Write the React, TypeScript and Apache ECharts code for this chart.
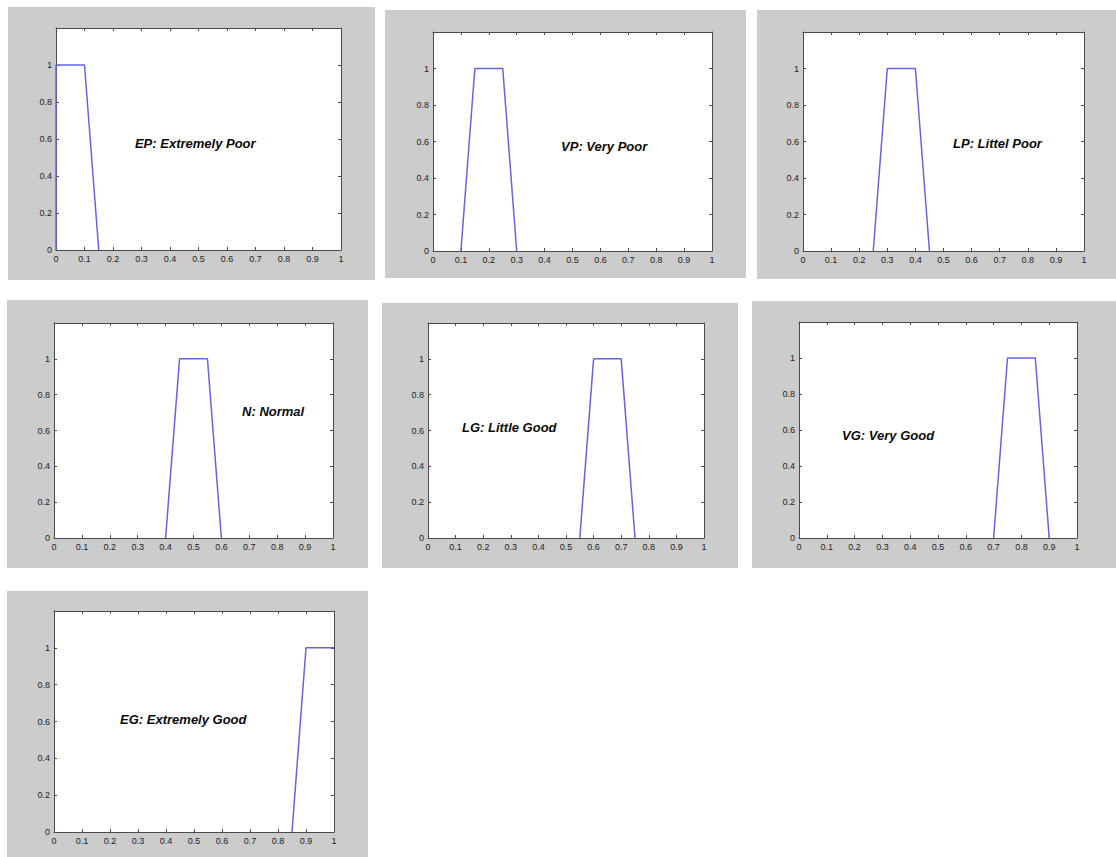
import React, { useEffect, useRef } from "react";
import * as echarts from "echarts";

// Trapezoidal membership functions of the seven linguistic terms
const epPoints = [[0, 0], [0, 1], [0.1, 1], [0.15, 0]];
const vpPoints = [[0.1, 0], [0.15, 1], [0.25, 1], [0.3, 0]];
const lpPoints = [[0.25, 0], [0.3, 1], [0.4, 1], [0.45, 0]];
const nPoints = [[0.4, 0], [0.45, 1], [0.55, 1], [0.6, 0]];
const lgPoints = [[0.55, 0], [0.6, 1], [0.7, 1], [0.75, 0]];
const vgPoints = [[0.7, 0], [0.75, 1], [0.85, 1], [0.9, 0]];
const egPoints = [[0.85, 0], [0.9, 1], [1, 1]];

const termNames = [
  "EP: Extremely Poor",
  "VP: Very Poor",
  "LP: Littel Poor",
  "N: Normal",
  "LG: Little Good",
  "VG: Very Good",
  "EG: Extremely Good",
];
// Where each term's name is written, in data coordinates (left edge, middle)
const nameX = [0.277, 0.459, 0.534, 0.674, 0.123, 0.155, 0.236];
const nameY = [0.573, 0.57, 0.59, 0.705, 0.617, 0.567, 0.61];

const xTicks = [0, 0.1, 0.2, 0.3, 0.4, 0.5, 0.6, 0.7, 0.8, 0.9, 1];
const yTicks = [0, 0.2, 0.4, 0.6, 0.8, 1];

const allPoints = [epPoints, vpPoints, lpPoints, nPoints, lgPoints, vgPoints, egPoints];

// Figure windows: grey backdrop [x, y, w, h] and axes box [left, top, w, h]
const figures = [
  { bg: [8, 7, 367, 273], box: [56, 28, 285, 222] },
  { bg: [385, 10, 361, 268], box: [433, 32, 279, 219] },
  { bg: [757, 10, 359, 269], box: [803, 32, 281, 219] },
  { bg: [7, 300, 361, 268], box: [54, 323, 279, 215] },
  { bg: [382, 303, 356, 265], box: [428, 323, 276, 215] },
  { bg: [752, 301, 364, 267], box: [799, 322, 278, 216] },
  { bg: [7, 591, 361, 266], box: [54, 611, 280, 221] },
];

const FRAME = "#4a4a4a";
const LINE = "#6464e6";
const FONT = "'Liberation Sans', Arial, sans-serif";

function fmt(v: number) {
  return String(Math.round(v * 10) / 10);
}

export default function App() {
  const ref = useRef<HTMLDivElement>(null);

  useEffect(() => {
    if (!ref.current) return;
    const chart = echarts.init(ref.current, null, { renderer: "svg" });

    const grid: any[] = [];
    const xAxis: any[] = [];
    const yAxis: any[] = [];
    const series: any[] = [];
    const graphic: any[] = [];

    figures.forEach((f, i) => {
      const [bx, by, bw, bh] = f.bg;
      graphic.push({
        type: "rect",
        shape: { x: bx, y: by, width: bw, height: bh },
        style: { fill: "#cccccc" },
        z: -10,
        silent: true,
      });
      const [l, t, w, h] = f.box;
      grid.push({
        left: l,
        top: t,
        width: w,
        height: h,
        show: true,
        backgroundColor: "#ffffff",
        borderWidth: 0,
      });

      const common = {
        gridIndex: i,
        type: "value",
        min: 0,
        splitLine: { show: false },
        axisLine: { show: true, onZero: false, lineStyle: { color: FRAME, width: 1 } },
        axisTick: { show: true, inside: true, length: 3, lineStyle: { color: FRAME } },
      };
      // bottom x axis with labels, top x axis as frame with ticks
      xAxis.push({
        ...common,
        position: "bottom",
        max: 1,
        interval: 0.1,
        axisLabel: {
          show: true,
          fontSize: 9,
          fontFamily: FONT,
          color: "#222",
          margin: 4,
          formatter: (v: number) => (xTicks.some((t) => Math.abs(t - v) < 1e-9) ? fmt(v) : ""),
        },
      });
      xAxis.push({
        ...common,
        position: "top",
        max: 1,
        interval: 0.1,
        axisLabel: { show: false },
      });
      yAxis.push({
        ...common,
        position: "left",
        max: 1.2,
        interval: 0.2,
        axisLabel: {
          show: true,
          fontSize: 9,
          fontFamily: FONT,
          color: "#222",
          margin: 4,
          formatter: (v: number) => (yTicks.some((t) => Math.abs(t - v) < 1e-9) ? fmt(v) : ""),
        },
      });
      yAxis.push({
        ...common,
        position: "right",
        max: 1.2,
        interval: 0.2,
        axisLabel: { show: false },
      });

      series.push({
        type: "line",
        xAxisIndex: i * 2,
        yAxisIndex: i * 2,
        data: allPoints[i],
        showSymbol: false,
        symbol: "none",
        lineStyle: { color: LINE, width: 1.5 },
        z: 5,
      });
      series.push({
        type: "scatter",
        xAxisIndex: i * 2,
        yAxisIndex: i * 2,
        data: [[nameX[i], nameY[i]]],
        symbolSize: 0,
        itemStyle: { opacity: 1 },
        label: {
          show: true,
          position: "right",
          distance: 0,
          formatter: termNames[i],
          fontFamily: FONT,
          fontSize: 13,
          fontWeight: "bold",
          fontStyle: "italic",
          color: "#0a0a0a",
          opacity: 1,
        },
        z: 6,
      });
    });

    chart.setOption({
      animation: false,
      backgroundColor: "#ffffff",
      graphic,
      grid,
      xAxis,
      yAxis,
      series,
    });

    return () => chart.dispose();
  }, []);

  return (
    <div
      ref={ref}
      style={{ position: "fixed", left: 0, top: 0, width: 1116, height: 857 }}
    />
  );
}
